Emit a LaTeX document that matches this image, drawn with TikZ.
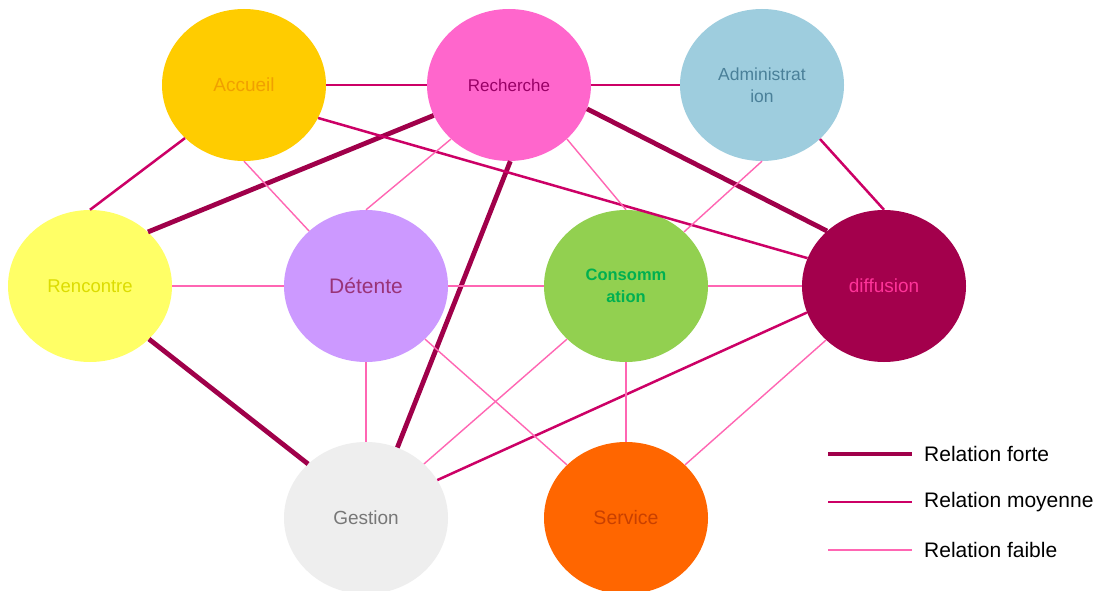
\documentclass[tikz,border=0pt]{standalone}
\usepackage{fontspec}
\setmainfont{Liberation Sans}
\usetikzlibrary{positioning,shapes.geometric}

\definecolor{rougeFort}{HTML}{A0004A}
\definecolor{roseMoyen}{HTML}{CC0066}
\definecolor{roseFaible}{HTML}{FF66B3}

\begin{document}
\begin{tikzpicture}[x=1pt, y=-1pt, on grid,
	pole/.style={ellipse, minimum width=164pt, minimum height=152pt, inner sep=0pt, align=center},
	forte/.style={draw=rougeFort, line width=4.8pt},
	moyenne/.style={draw=roseMoyen, line width=2.5pt},
	faible/.style={draw=roseFaible, line width=1.4pt},
	legende/.style={anchor=west, inner sep=0pt, font=\fontsize{21}{24}\selectfont}]
	\path[use as bounding box, fill=white] (0,0) rectangle (1101,591);

	\node[pole, fill={rgb,255:red,255;green,255;blue,102}, text={rgb,255:red,220;green,220;blue,0}, font=\fontsize{18.5}{22}\selectfont] (renc) at (90,286) {Rencontre};
	\node[pole, fill={rgb,255:red,204;green,153;blue,255}, text={rgb,255:red,153;green,51;blue,119}, font=\fontsize{21}{24}\selectfont] (det) [right=276pt of renc] {Détente};
	\node[pole, fill={rgb,255:red,146;green,208;blue,80}, text={rgb,255:red,0;green,176;blue,80}, font=\fontsize{16.5}{22}\selectfont\bfseries] (cons) [right=260pt of det] {Consomm\\ation};
	\node[pole, fill={rgb,255:red,163;green,0;blue,76}, text={rgb,255:red,255;green,51;blue,153}, font=\fontsize{19}{22}\selectfont] (diff) [right=258pt of cons] {diffusion};
	\node[pole, fill={rgb,255:red,255;green,204;blue,0}, text={rgb,255:red,240;green,160;blue,0}, font=\fontsize{19}{22}\selectfont] (acc) [above right=201pt and 154pt of renc] {Accueil};
	\node[pole, fill={rgb,255:red,255;green,102;blue,204}, text={rgb,255:red,153;green,0;blue,102}, font=\fontsize{17}{22}\selectfont] (rech) [above right=201pt and 143pt of det] {Recherche};
	\node[pole, fill={rgb,255:red,158;green,205;blue,222}, text={rgb,255:red,74;green,128;blue,153}, font=\fontsize{17.5}{22}\selectfont] (adm) [right=253pt of rech] {Administrat\\ion};
	\node[pole, fill={rgb,255:red,238;green,238;blue,238}, text={rgb,255:red,119;green,119;blue,119}, font=\fontsize{19}{22}\selectfont] (gest) [below=232pt of det] {Gestion};
	\node[pole, fill={rgb,255:red,255;green,102;blue,0}, text={rgb,255:red,200;green,64;blue,0}, font=\fontsize{19.5}{22}\selectfont] (serv) [below=232pt of cons] {Service};

	% relations fortes
	\path (rech.202) edge[forte] (renc.43);
	\path (rech.343) edge[forte] (diff.136);
	\path (rech.271) edge[forte] (gest.66);
	\path (renc.318) edge[forte] (gest.137);

	% relations moyennes
	\path (acc.east) edge[moyenne] (rech.west);
	\path (rech.east) edge[moyenne] (adm.west);
	\path (acc.222) edge[moyenne] (renc.north);
	\path (acc.336) edge[moyenne] (diff.160);
	\path (adm.317) edge[moyenne] (diff.north);
	\path (diff.199) edge[moyenne] (gest.28);

	% relations faibles
	\path (acc.south) edge[faible] (det.136);
	\path (rech.223) edge[faible] (det.north);
	\path (rech.317) edge[faible] (cons.north);
	\path (adm.south) edge[faible] (cons.43);
	\path (renc.east) edge[faible] (det.west);
	\path (det.east) edge[faible] (cons.west);
	\path (cons.east) edge[faible] (diff.west);
	\path (det.south) edge[faible] (gest.north);
	\path (det.318) edge[faible] (serv.138);
	\path (cons.222) edge[faible] (gest.43);
	\path (cons.south) edge[faible] (serv.north);
	\path (diff.223) edge[faible] (serv.42);

	% legende
	\coordinate (lf1) at (828,454);
	\coordinate (lf2) at (912,454);
	\coordinate (lm1) at (828,502);
	\coordinate (lm2) at (912,502);
	\coordinate (lw1) at (828,550);
	\coordinate (lw2) at (912,550);
	\path (lf1) edge[forte] (lf2);
	\path (lm1) edge[moyenne] (lm2);
	\path (lw1) edge[faible] (lw2);
	\node[legende] (tf) at (924,454) {Relation forte};
	\node[legende] (tm) at (924,502) {Relation moyenne};
	\node[legende] (tw) at (924,550) {Relation faible};
\end{tikzpicture}
\end{document}
